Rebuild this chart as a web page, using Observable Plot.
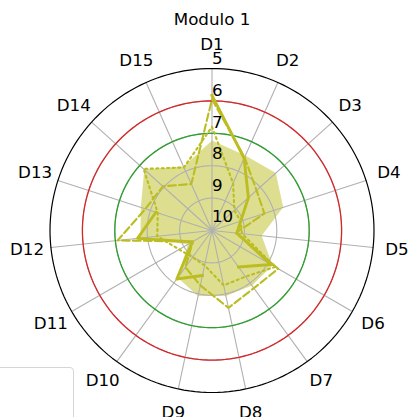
<!DOCTYPE html>
<html><head><meta charset="utf-8">
<script src="https://cdn.jsdelivr.net/npm/d3@7"></script>
<script src="https://cdn.jsdelivr.net/npm/@observablehq/plot@0.6"></script>
<style>
body{margin:0;background:#fff;}
#wrap{position:relative;width:408px;height:417px;overflow:hidden;}
#legend{position:absolute;left:-12px;top:367px;width:84px;height:80px;border:1px solid #d5d5d5;border-radius:4px;background:rgba(255,255,255,0.8);}
</style></head><body>
<div id="wrap"></div>
<script>
// ---- data ----
const title = "Modulo 1";
const categories = ["D1","D2","D3","D4","D5","D6","D7","D8","D9","D10","D11","D12","D13","D14","D15"];
const radialTicks = [5, 6, 7, 8, 9, 10];
const seriesSolid  = [5.83, 7.56, 8.49, 9.07, 9.23, 7.90, 8.61, null, 8.58, 8.15, 9.30, 7.69, 8.18, null, null];
const seriesDashed = [5.95, 7.53, 8.15, 8.30, 9.26, 7.64, 7.80, 7.56, 8.27, 8.60, 9.32, 7.07, 7.84, 7.96, 8.43];
const seriesDotted = [6.80, 8.40, 9.07, 9.07, 9.07, 7.75, 8.24, 8.27, 8.90, 8.98, 8.83, 8.30, 8.24, 7.16, 7.87];
const seriesFill   = [7.22, 7.47, 7.35, 7.69, 8.46, 7.84, 7.90, 7.93, 7.93, 8.20, 9.14, 7.78, 7.69, 7.19, 7.84];
const greenLevel = 7, redLevel = 6;

// ---- geometry helpers ----
const rMin = 5, rMax = 10;               // 10 at centre, 5 at rim
const n = categories.length;
const ang = i => i * 2 * Math.PI / n;
const dist = v => rMax - v;
const px = 32.4, cx = 211.5, cy = 230, W = 408, H = 417;

function polyPoints(values, closed) {
  const idx = closed ? [...values.keys(), 0] : [...values.keys()];
  return idx.map(i => {
    const v = values[i];
    const ok = v != null;
    return {x: ok ? dist(v) * Math.sin(ang(i)) : NaN, y: ok ? dist(v) * Math.cos(ang(i)) : NaN};
  });
}
function ringPoints(level) {
  return d3.range(0, 361, 2).map(a => ({level, x: dist(level) * Math.sin(a * Math.PI / 180), y: dist(level) * Math.cos(a * Math.PI / 180)}));
}
const gridRings = radialTicks.filter(v => v !== rMax && v !== rMin).flatMap(ringPoints);
const labelR = 186 / px;

const olive = "#bcbd22";
const chart = Plot.plot({
  width: W, height: H, margin: 0,
  x: {domain: [-cx / px, (W - cx) / px], axis: null},
  y: {domain: [-(H - cy) / px, cy / px], axis: null},
  style: {fontFamily: "DejaVu Sans", fontSize: "16.7px", color: "#000", background: "transparent"},
  marks: [
    Plot.line(polyPoints(seriesFill, true), {x: "x", y: "y", fill: olive, fillOpacity: 0.5, stroke: "none"}),
    Plot.line(gridRings, {x: "x", y: "y", z: "level", stroke: "#b0b0b0", strokeWidth: 1.1}),
    Plot.link(categories, {x1: 0, y1: 0, x2: (d, i) => dist(rMin) * Math.sin(ang(i)), y2: (d, i) => dist(rMin) * Math.cos(ang(i)), stroke: "#b0b0b0", strokeWidth: 1.1}),
    Plot.line(ringPoints(greenLevel), {x: "x", y: "y", stroke: "#2ca02c", strokeWidth: 1.3}),
    Plot.line(ringPoints(redLevel), {x: "x", y: "y", stroke: "#d62728", strokeWidth: 1.3}),
    Plot.line(ringPoints(rMin), {x: "x", y: "y", stroke: "#000", strokeWidth: 1.2}),
    Plot.line(polyPoints(seriesDotted, true), {x: "x", y: "y", stroke: olive, strokeWidth: 2.1, strokeDasharray: "2.1,3.4", strokeLinejoin: "round"}),
    Plot.line(polyPoints(seriesDashed, true), {x: "x", y: "y", stroke: olive, strokeWidth: 2.1, strokeDasharray: "7.7,3.3", strokeLinejoin: "round"}),
    Plot.line(polyPoints(seriesSolid, true), {x: "x", y: "y", stroke: olive, strokeWidth: 2.9, strokeLinejoin: "round", strokeLinecap: "square"}),
    Plot.text(radialTicks, {x: 0, y: v => dist(v) * 0.975 + 13.5 / px, text: v => String(v), textAnchor: "start", fill: "#000"}),
    Plot.text(categories, {x: (d, i) => labelR * Math.sin(ang(i)), y: (d, i) => labelR * Math.cos(ang(i)), text: d => d, fill: "#000"}),
    Plot.text([title], {frameAnchor: "top", dx: 7.5, dy: 19, text: d => d, lineAnchor: "middle", fill: "#000"})
  ]
});
const wrap = document.getElementById("wrap");
wrap.appendChild(chart);
const lg = document.createElement("div"); lg.id = "legend"; wrap.appendChild(lg);
</script>
</body></html>
